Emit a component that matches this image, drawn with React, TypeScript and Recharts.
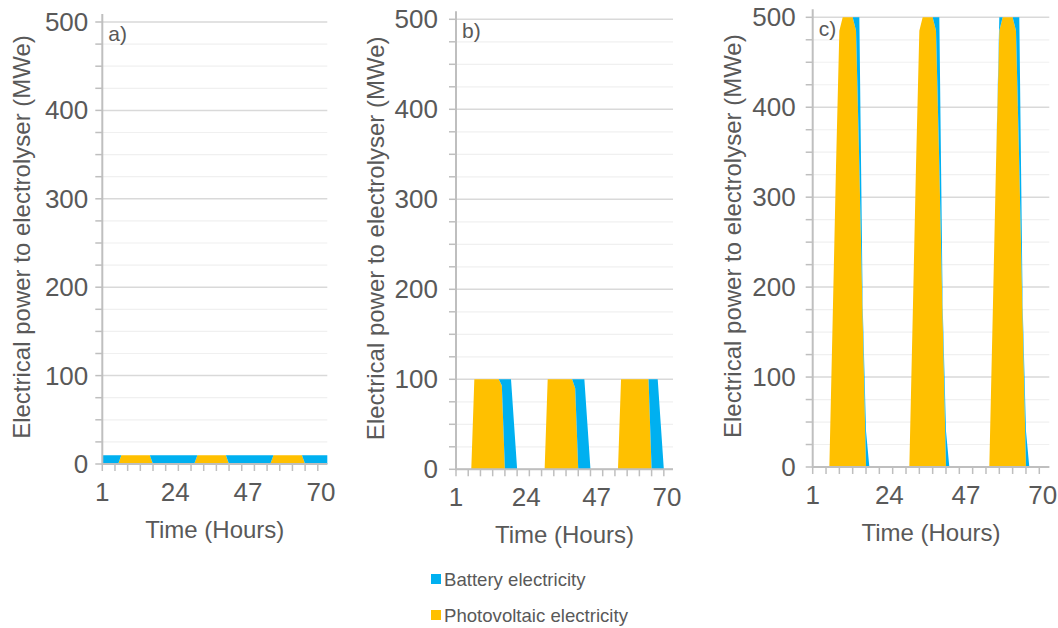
import { AreaChart, Area, XAxis, YAxis, CartesianGrid } from 'recharts';

// Hour of the simulated three-day period (category axis)
const HOURS = [
  1, 2, 3, 4, 5, 6, 7, 8, 9, 10, 11, 12,
  13, 14, 15, 16, 17, 18, 19, 20, 21, 22, 23, 24,
  25, 26, 27, 28, 29, 30, 31, 32, 33, 34, 35, 36,
  37, 38, 39, 40, 41, 42, 43, 44, 45, 46, 47, 48,
  49, 50, 51, 52, 53, 54, 55, 56, 57, 58, 59, 60,
  61, 62, 63, 64, 65, 66, 67, 68, 69, 70, 71, 72,
];

// a) 10 MWe electrolyser
const PV_A = [
  0, 0, 0, 0, 0, 0, 10, 10, 10, 10, 10, 10,
  10, 10, 10, 10, 0, 0, 0, 0, 0, 0, 0, 0,
  0, 0, 0, 0, 0, 0, 10, 10, 10, 10, 10, 10,
  10, 10, 10, 10, 0, 0, 0, 0, 0, 0, 0, 0,
  0, 0, 0, 0, 0, 0, 10, 10, 10, 10, 10, 10,
  10, 10, 10, 10, 0, 0, 0, 0, 0, 0, 0, 0,
];
const BATTERY_A = [
  10, 10, 10, 10, 10, 10, 0, 0, 0, 0, 0, 0,
  0, 0, 0, 0, 10, 10, 10, 10, 10, 10, 10, 10,
  10, 10, 10, 10, 10, 10, 0, 0, 0, 0, 0, 0,
  0, 0, 0, 0, 10, 10, 10, 10, 10, 10, 10, 10,
  10, 10, 10, 10, 10, 10, 0, 0, 0, 0, 0, 0,
  0, 0, 0, 0, 10, 10, 10, 10, 10, 10, 10, 10,
];

// b) 100 MWe electrolyser
const PV_B = [
  0, 0, 0, 0, 0, 0, 100, 100, 100, 100, 100, 100,
  100, 100, 100, 93, 0, 0, 0, 0, 0, 0, 0, 0,
  0, 0, 0, 0, 0, 0, 100, 100, 100, 100, 100, 100,
  100, 100, 100, 90, 0, 0, 0, 0, 0, 0, 0, 0,
  0, 0, 0, 0, 0, 0, 100, 100, 100, 100, 100, 100,
  100, 100, 100, 100, 0, 0, 0, 0, 0, 0, 0, 0,
];
const BATTERY_B = [
  0, 0, 0, 0, 0, 0, 0, 0, 0, 0, 0, 0,
  0, 0, 0, 7, 100, 100, 100, 50, 0, 0, 0, 0,
  0, 0, 0, 0, 0, 0, 0, 0, 0, 0, 0, 0,
  0, 0, 0, 10, 100, 100, 100, 50, 0, 0, 0, 0,
  0, 0, 0, 0, 0, 0, 0, 0, 0, 0, 0, 0,
  0, 0, 0, 0, 100, 100, 100, 50, 0, 0, 0, 0,
];

// c) 500 MWe electrolyser
const PV_C = [
  0, 0, 0, 0, 0, 0, 165, 335, 485, 500, 500, 500,
  500, 485, 335, 165, 0, 0, 0, 0, 0, 0, 0, 0,
  0, 0, 0, 0, 0, 0, 165, 335, 485, 500, 500, 500,
  500, 485, 335, 165, 0, 0, 0, 0, 0, 0, 0, 0,
  0, 0, 0, 0, 0, 0, 165, 335, 485, 500, 500, 500,
  500, 485, 335, 165, 0, 0, 0, 0, 0, 0, 0, 0,
];
const BATTERY_C = [
  0, 0, 0, 0, 0, 0, 0, 0, 0, 0, 0, 0,
  0, 15, 165, 15, 40, 0, 0, 0, 0, 0, 0, 0,
  0, 0, 0, 0, 0, 0, 0, 0, 0, 0, 0, 0,
  0, 15, 165, 15, 40, 0, 0, 0, 0, 0, 0, 0,
  0, 0, 0, 0, 0, 0, 0, 0, 15, 0, 0, 0,
  0, 15, 165, 15, 40, 0, 0, 0, 0, 0, 0, 0,
];

const X_LABEL_TICKS = [1, 24, 47, 70];
const X_MINOR_TICKS = [1, 5, 9, 13, 17, 21, 25, 29, 33, 37, 41, 45, 49, 53, 57, 61, 65, 69];
const Y_TICKS = [
  0, 25, 50, 75, 100, 125, 150, 175, 200, 225, 250,
  275, 300, 325, 350, 375, 400, 425, 450, 475, 500,
];
const Y_LABEL_TICKS = [0, 100, 200, 300, 400, 500];

const SERIES_LABELS = ['Battery electricity', 'Photovoltaic electricity'];

const BATTERY_COLOUR = '#00B0F0';
const PV_COLOUR = '#FFC000';
const TEXT_COLOUR = '#595959';
const AXIS_COLOUR = '#bfbfbf';
const FONT = '"Liberation Sans", Arial, sans-serif';
const TICK_FONT_SIZE = 26;

const CHART_HEIGHT = 560;
const Y_AXIS_WIDTH = 60;
const X_AXIS_HEIGHT = 40;

const X_TICKS = [...new Set([...X_MINOR_TICKS, ...X_LABEL_TICKS])].sort((a, b) => a - b);
const MINOR_GRID = Y_TICKS.filter((v) => !Y_LABEL_TICKS.includes(v));

function XTick({ x, y, payload }: any) {
  const v = payload.value;
  return (
    <g>
      {X_MINOR_TICKS.includes(v) && (
        <line x1={x} x2={x} y1={y} y2={y + 7} stroke={AXIS_COLOUR} strokeWidth={1.5} />
      )}
      {X_LABEL_TICKS.includes(v) && (
        <text x={x} y={y + 37} textAnchor="middle" fontSize={TICK_FONT_SIZE} fill={TEXT_COLOUR} fontFamily={FONT}>
          {v}
        </text>
      )}
    </g>
  );
}

function YTick({ x, y, payload, gap }: any) {
  const v = payload.value;
  return (
    <g>
      <line x1={x - 7} x2={x} y1={y} y2={y} stroke={AXIS_COLOUR} strokeWidth={1.5} />
      {Y_LABEL_TICKS.includes(v) && (
        <text x={x - gap} y={y + 9} textAnchor="end" fontSize={TICK_FONT_SIZE} fill={TEXT_COLOUR} fontFamily={FONT}>
          {v}
        </text>
      )}
    </g>
  );
}

interface PanelProps {
  tag: string;
  pv: number[];
  battery: number[];
  left: number;
  width: number;
  labelGap: number;
  margin: { top: number; right: number; bottom: number; left: number };
}

function Panel({ tag, pv, battery, left, width, labelGap, margin }: PanelProps) {
  const data = HOURS.map((hour, i) => ({ hour, pv: pv[i], battery: battery[i] }));

  const plotLeft = margin.left + Y_AXIS_WIDTH;
  const plotRight = width - margin.right;
  const plotTop = margin.top;
  const plotBottom = CHART_HEIGHT - margin.bottom - X_AXIS_HEIGHT;
  const midX = (plotLeft + plotRight) / 2;
  const midY = (plotTop + plotBottom) / 2 - 6;

  return (
    <div style={{ position: 'absolute', left, top: 0, width, height: CHART_HEIGHT }}>
      <AreaChart width={width} height={CHART_HEIGHT} data={data} margin={margin}>
        <CartesianGrid vertical={false} horizontalValues={MINOR_GRID} stroke="#f0f0f0" strokeWidth={1.2} />
        <CartesianGrid vertical={false} horizontalValues={Y_LABEL_TICKS} stroke="#d9d9d9" strokeWidth={1.5} />
        <XAxis
          dataKey="hour"
          type="number"
          domain={[1, 72]}
          ticks={X_TICKS}
          interval={0}
          tickSize={0}
          tickMargin={0}
          tick={<XTick />}
          height={X_AXIS_HEIGHT}
          axisLine={{ stroke: AXIS_COLOUR, strokeWidth: 2 }}
        />
        <YAxis
          type="number"
          domain={[0, 500]}
          ticks={Y_TICKS}
          interval={0}
          tickSize={0}
          tickMargin={0}
          tick={<YTick gap={labelGap} />}
          width={Y_AXIS_WIDTH}
          axisLine={false}
        />
        <Area
          dataKey="pv"
          name={SERIES_LABELS[1]}
          stackId="power"
          type="linear"
          fill={PV_COLOUR}
          fillOpacity={1}
          stroke="none"
          dot={false}
          activeDot={false}
          isAnimationActive={false}
        />
        <Area
          dataKey="battery"
          name={SERIES_LABELS[0]}
          stackId="power"
          type="linear"
          fill={BATTERY_COLOUR}
          fillOpacity={1}
          stroke="none"
          dot={false}
          activeDot={false}
          isAnimationActive={false}
        />
      </AreaChart>

      <svg
        width={width}
        height={CHART_HEIGHT}
        style={{ position: 'absolute', left: 0, top: 0, pointerEvents: 'none' }}
        fontFamily={FONT}
      >
        <line x1={plotLeft} x2={plotLeft} y1={plotTop - 8} y2={plotBottom + 1} stroke={AXIS_COLOUR} strokeWidth={2} />
        <text x={plotLeft + 6} y={plotTop + 19} fontSize={21} fill={TEXT_COLOUR}>
          {tag}
        </text>
        <text x={midX} y={plotBottom + 74} textAnchor="middle" fontSize={24} fill={TEXT_COLOUR}>
          Time (Hours)
        </text>
        <text
          transform={`translate(${plotLeft - 72}, ${midY}) rotate(-90)`}
          textAnchor="middle"
          fontSize={24}
          fill={TEXT_COLOUR}
        >
          Electrical power to electrolyser (MWe)
        </text>
      </svg>
    </div>
  );
}

function Legend() {
  const colours = [BATTERY_COLOUR, PV_COLOUR];
  return (
    <svg
      width={300}
      height={70}
      style={{ position: 'absolute', left: 420, top: 560 }}
      fontFamily={FONT}
    >
      {SERIES_LABELS.map((label, i) => (
        <g key={label}>
          <rect x={11} y={14 + i * 36} width={10} height={10} fill={colours[i]} />
          <text x={24} y={26 + i * 36} fontSize={18.6} fill={TEXT_COLOUR}>
            {label}
          </text>
        </g>
      ))}
    </svg>
  );
}

export default function App() {
  return (
    <div style={{ position: 'absolute', left: 0, top: 0, width: 1058, height: 628, background: '#fff' }}>
      <Panel
        tag="a)"
        pv={PV_A}
        battery={BATTERY_A}
        left={0}
        width={340}
        labelGap={14}
        margin={{ top: 22, right: 12.7, bottom: 56, left: 42.3 }}
      />
      <Panel
        tag="b)"
        pv={PV_B}
        battery={BATTERY_B}
        left={350}
        width={340}
        labelGap={18}
        margin={{ top: 19.3, right: 17, bottom: 50.7, left: 46 }}
      />
      <Panel
        tag="c)"
        pv={PV_C}
        battery={BATTERY_C}
        left={700}
        width={358}
        labelGap={17}
        margin={{ top: 17.3, right: 8.7, bottom: 53, left: 52.7 }}
      />
      <Legend />
    </div>
  );
}
